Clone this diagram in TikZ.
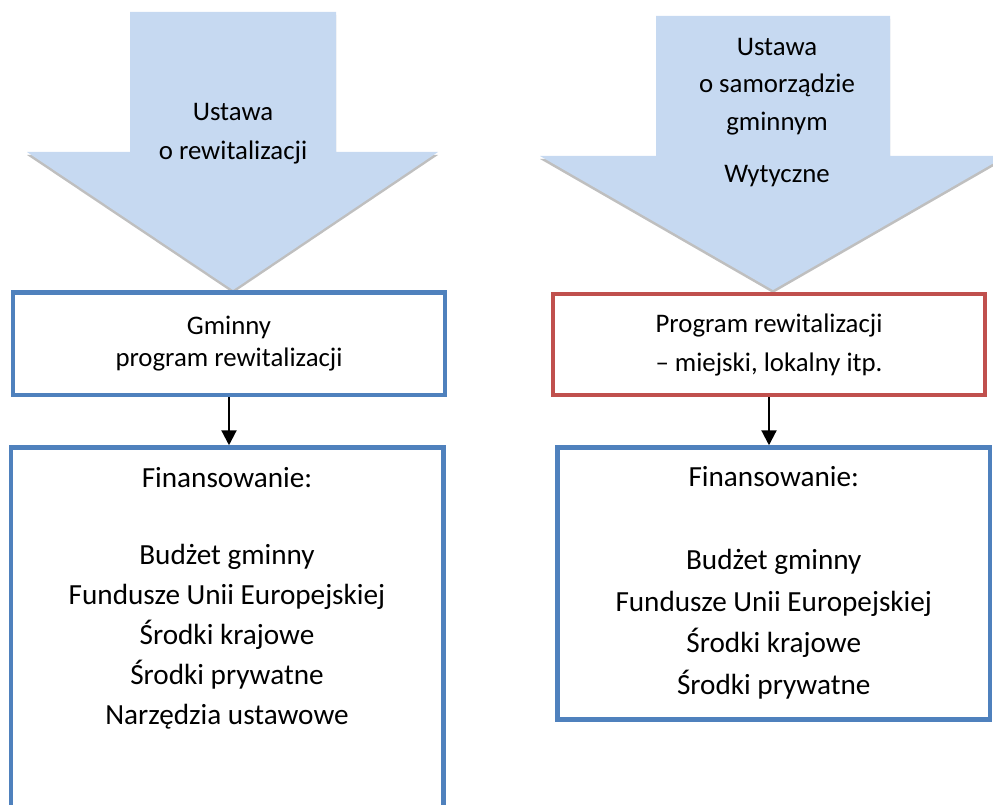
\documentclass[tikz,border=0pt]{standalone}
\usepackage{fontspec}
\setmainfont{Carlito}
\usetikzlibrary{arrows.meta,positioning}

\definecolor{arrowblue}{HTML}{C6D9F1}
\definecolor{shadowgray}{HTML}{BFBFBF}
\definecolor{frameblue}{HTML}{4F81BD}
\definecolor{framered}{HTML}{C0504D}

\tikzset{
  bigarrow/.style={fill=arrowblue},
  arrowshadow/.style={fill=shadowgray},
  frame/.style={draw=#1, line width=4.5pt, rectangle, inner sep=0pt, align=center},
  smalltext/.style={align=center, font=\fontsize{26.8}{#1}\selectfont},
  bigtext/.style={align=center, font=\fontsize{29.2}{#1}\selectfont},
  flow/.style={-{Triangle[length=15pt,width=15pt]}, line width=2.2pt}
}

\begin{document}
\begin{tikzpicture}[x=1pt,y=-1pt]
\useasboundingbox (0,0) rectangle (993,805);
\clip (0,0) rectangle (993,805);

% left big arrow
\fill[arrowshadow] (130,15)--(336,15)--(336,155)--(438,155)--(233,293)--(27,155)--(130,155)--cycle;
\fill[bigarrow] (130,12)--(336,12)--(336,152)--(438,152)--(233,290)--(27,152)--(130,152)--cycle;
\node[smalltext=39] (ustawa1) at (233,134) {Ustawa\\o rewitalizacji};

% right big arrow
\fill[arrowshadow] (656,19)--(890,19)--(890,159)--(1006,159)--(773,293)--(540,159)--(656,159)--cycle;
\fill[bigarrow] (656,16)--(890,16)--(890,156)--(1006,156)--(773,290)--(540,156)--(656,156)--cycle;
\node[smalltext=37.5] (ustawa2) at (777,112.5) {Ustawa\\o samorządzie\\gminnym\\[14.5pt]Wytyczne};

% programs
\node[frame=frameblue, minimum width=432, minimum height=102.5, font=\fontsize{26.8}{32}\selectfont]
  (gpr) at (229,343.75) {Gminny\\program rewitalizacji};
\node[frame=framered, minimum width=432, minimum height=101, font=\fontsize{26.8}{39}\selectfont]
  (pr) at (769,344.5) {Program rewitalizacji\\– miejski, lokalny itp.};

% financing
\node[frame=frameblue, minimum width=432.5, minimum height=392.5] (fin1) at (227,643.75) {};
\node[frame=frameblue, minimum width=432.5, minimum height=272] (fin2) at (773.75,583.5) {};
\node[bigtext=40] (fin1txt) at (227,598)
  {Finansowanie:\\[37pt]Budżet gminny\\Fundusze Unii Europejskiej\\Środki krajowe\\Środki prywatne\\Narzędzia ustawowe};
\node[bigtext=41.5] (fin2txt) at (773.75,583)
  {Finansowanie:\\[41.5pt]Budżet gminny\\Fundusze Unii Europejskiej\\Środki krajowe\\Środki prywatne};

\draw[flow] (gpr) -- (gpr |- fin1.north);
\draw[flow] (pr) -- (pr |- fin2.north);
\end{tikzpicture}
\end{document}
